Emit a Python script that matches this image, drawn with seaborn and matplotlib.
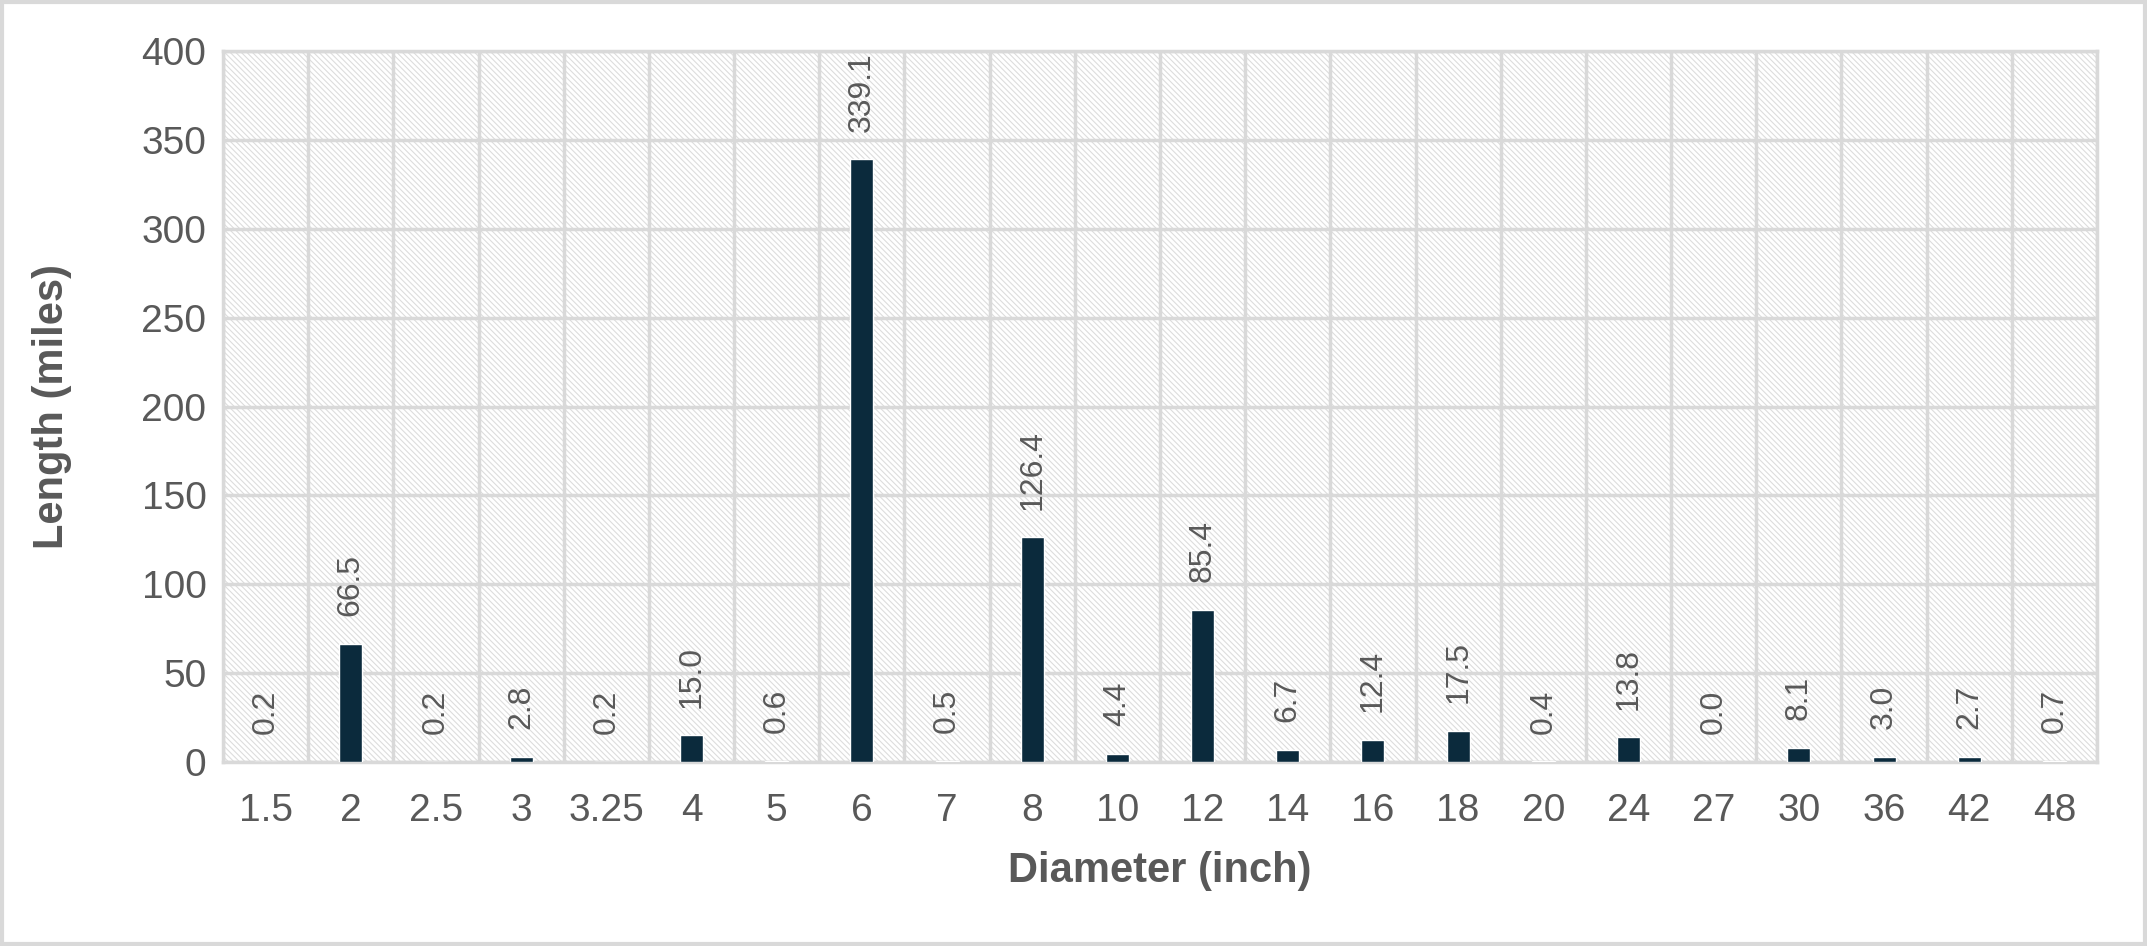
import matplotlib
matplotlib.use("Agg")
import matplotlib.pyplot as plt
from matplotlib.patches import Rectangle
import seaborn as sns
import pandas as pd

# Pipe length by diameter
diameters = ["1.5", "2", "2.5", "3", "3.25", "4", "5", "6", "7", "8", "10",
             "12", "14", "16", "18", "20", "24", "27", "30", "36", "42", "48"]
lengths = [0.2, 66.5, 0.2, 2.8, 0.2, 15.0, 0.6, 339.1, 0.5, 126.4, 4.4,
           85.4, 6.7, 12.4, 17.5, 0.4, 13.8, 0.0, 8.1, 3.0, 2.7, 0.7]

df = pd.DataFrame({"Diameter": diameters, "Length": lengths})

sns.set_style("white")
plt.rcParams["font.family"] = ["Liberation Sans", "DejaVu Sans"]
plt.rcParams["hatch.linewidth"] = 0.8

text_color = "#595959"
grid_color = "#D9D9D9"
bar_color = "#0B2A3C"

fig = plt.figure(figsize=(21.47, 9.46), dpi=100)
ax = fig.add_axes([0.1039, 0.1945, 0.8728, 0.7515])

sns.barplot(data=df, x="Diameter", y="Length", order=diameters,
            color=bar_color, width=0.27, saturation=1, ax=ax, zorder=3)

# Hatched background of the plot area
ax.set_facecolor("white")
ax.add_patch(Rectangle((0, 0), 1, 1, transform=ax.transAxes, facecolor="white",
                       edgecolor="#DDDDDD", hatch="\\" * 6, lw=0, zorder=0))

# Data labels
for i, v in enumerate(lengths):
    ax.annotate(f"{v:.1f}", (i, v), xytext=(0, 20), textcoords="offset points",
                rotation=90, ha="center", va="bottom", fontsize=23,
                color=text_color, zorder=4)

ax.set_ylim(0, 400)
ax.set_xlim(-0.5, len(diameters) - 0.5)
ax.set_yticks(range(0, 401, 50))
ax.set_xticks([i - 0.5 for i in range(len(diameters) + 1)], minor=True)

ax.grid(True, axis="y", which="major", color=grid_color, lw=2.5, zorder=1)
ax.grid(True, axis="x", which="minor", color=grid_color, lw=2.5, zorder=1)
ax.grid(False, axis="x", which="major")
ax.set_axisbelow(False)

for s in ax.spines.values():
    s.set_color(grid_color)
    s.set_linewidth(2.5)
    s.set_zorder(2)

ax.tick_params(axis="both", which="both", length=0, labelsize=28, labelcolor=text_color)
ax.tick_params(axis="x", pad=22)
ax.tick_params(axis="y", pad=12)

ax.set_xlabel("Diameter (inch)", fontsize=30, fontweight="bold", color=text_color, labelpad=16)
ax.set_ylabel("Length (miles)", fontsize=30, fontweight="bold", color=text_color, labelpad=50)

# Light frame around the whole figure
fig.add_artist(Rectangle((0.001, 0.002), 0.998, 0.996, transform=fig.transFigure,
                         fill=False, edgecolor=grid_color, lw=3))

plt.savefig("out.png", dpi=100)
